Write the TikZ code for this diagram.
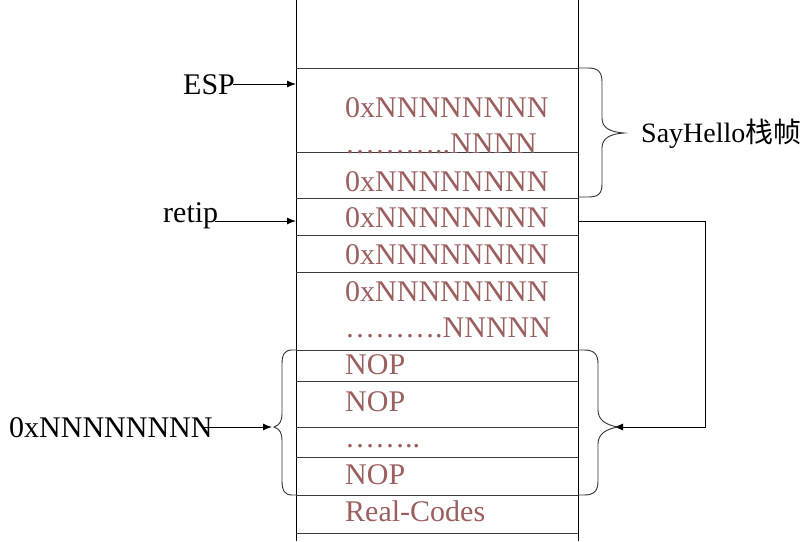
\documentclass[tikz,border=0pt]{standalone}
\usepackage{fontspec}
\setmainfont{Liberation Serif}
\newfontfamily\cjk{Noto Sans CJK SC}
\usetikzlibrary{arrows.meta}
\definecolor{celltext}{RGB}{155,95,95}
\definecolor{rowline}{RGB}{60,60,60}
\tikzset{
  celltxt/.style={anchor=base west,inner sep=0pt,text=celltext,font=\fontsize{30}{36}\selectfont},
  lbl/.style={anchor=base west,inner sep=0pt,text=black,font=\fontsize{30}{36}\selectfont},
  rowsep/.style={draw=rowline,line width=0.9pt},
  colsep/.style={draw=black,line width=0.9pt},
  brace/.style={draw=black!80,line width=0.9pt},
  ptr/.style={draw=black,line width=1pt,-{Latex[length=9pt,width=7pt]}},
}
\begin{document}
\begin{tikzpicture}[x=1pt,y=-1pt]
\useasboundingbox (0,0) rectangle (805,541);
\fill[white] (0,0) rectangle (805,541);
% stack columns
\draw[colsep] (296,0) -- (296,541);
\draw[colsep] (578,0) -- (578,541);
% row separators
\foreach \yy in {68,152,198,235,272,350,381,427,457,495,533}
  \draw[rowsep] (296,\yy) -- (578,\yy);
% cell texts
\node[celltxt] (c1) at (345,117) {0xNNNNNNNN};
\node[celltxt] (c2) at (345,153) {………..NNNN};
\node[celltxt] (c3) at (345,191) {0xNNNNNNNN};
\node[celltxt] (c4) at (345,227) {0xNNNNNNNN};
\node[celltxt] (c5) at (345,264) {0xNNNNNNNN};
\node[celltxt] (c6) at (345,301) {0xNNNNNNNN};
\node[celltxt] (c7) at (345,337) {……….NNNNN};
\node[celltxt] (c8) at (345,374) {NOP};
\node[celltxt] (c9) at (345,411) {NOP};
\node[celltxt] (c10) at (345,447) {……..};
\node[celltxt] (c11) at (345,484) {NOP};
\node[celltxt] (c12) at (345,521) {Real-Codes};
% labels
\node[lbl] (esp) at (183,94) {ESP};
\node[lbl] (retip) at (163,222) {retip};
\node[lbl] (addr) at (9,437) {0xNNNNNNNN};
\node[lbl,font=\fontsize{28}{34}\selectfont] (frame) at (641,142) {SayHello{\cjk 栈帧}};
% anchor coordinates
\coordinate (espT) at (296,84);
\coordinate (retT) at (296,221);
\coordinate (retS) at (578,221);
\coordinate (retC1) at (705,221);
\coordinate (retC2) at (705,427);
\coordinate (nopR) at (614,427);
\coordinate (nopL) at (272,427);
% pointers
\draw[ptr] (esp.east |- espT) ++(-2,0) -- (espT);
\draw[ptr] (retip.east |- retT) ++(-3,0) -- (retT);
\draw[ptr] (addr.east |- nopL) ++(-10,0) -- (nopL);
\draw[ptr,line width=0.9pt] (retS) -- (retC1) -- (retC2) -- (nopR);
% brace for SayHello frame
\draw[brace] (578,68) -- (588,68) .. controls (598,68) and (602,72) .. (602,82)
  -- (602,118) .. controls (602,128) and (610,132) .. (624,133)
  .. controls (610,134) and (602,138) .. (602,148)
  -- (602,184) .. controls (602,194) and (598,197) .. (588,197) -- (578,197);
% right brace for NOP region
\draw[brace] (578,350) -- (584,350) .. controls (594,350) and (598,354) .. (598,364)
  -- (598,410) .. controls (598,420) and (606,425) .. (618,427)
  .. controls (606,429) and (598,434) .. (598,444)
  -- (598,481) .. controls (598,491) and (594,495) .. (584,495) -- (578,495);
% left brace for NOP region
\draw[brace] (296,350) -- (292,350) .. controls (285,350) and (282,354) .. (282,364)
  -- (282,413) .. controls (282,421) and (280,425) .. (274,427)
  .. controls (280,429) and (282,433) .. (282,441)
  -- (282,481) .. controls (282,491) and (285,495) .. (292,495) -- (296,495);
\end{tikzpicture}
\end{document}
